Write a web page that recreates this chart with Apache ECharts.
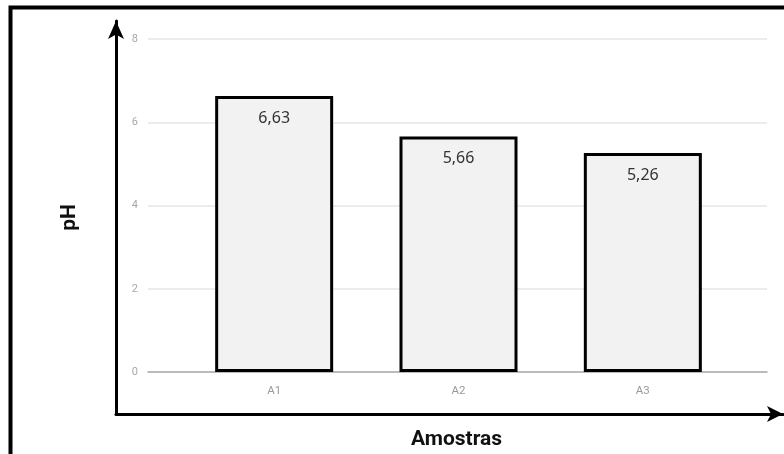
<!DOCTYPE html>
<html>
<head>
<meta charset="utf-8">
<script src="https://cdn.jsdelivr.net/npm/echarts@6/dist/echarts.min.js"></script>
<style>
html,body{margin:0;padding:0;background:#fff;}
#c{width:784px;height:454px;}
</style>
</head>
<body>
<div id="c"></div>
<script>
var categories = ['A1', 'A2', 'A3'];
var phValues = [6.63, 5.66, 5.26];
var yMin = 0, yMax = 8, yInterval = 2;

var chart = echarts.init(document.getElementById('c'), null, {renderer: 'canvas'});
var option = {
  backgroundColor: '#fff',
  animation: false,
  grid: [
    {left: 148, right: 17, top: 39, bottom: 82, outerBoundsMode: 'none', containLabel: false},
    {left: 182, right: 49, top: 39, bottom: 82, outerBoundsMode: 'none', containLabel: false},
    {left: 116, right: 1, top: 21, bottom: 40, outerBoundsMode: 'none', containLabel: false}
  ],
  xAxis: [
    {gridIndex: 0, type: 'value', min: 0, max: 1, show: true,
     axisLine: {show: true, onZero: false, lineStyle: {color: '#aaaaaa', width: 1.5}},
     axisTick: {show: false}, axisLabel: {show: false}, splitLine: {show: false}},
    {gridIndex: 1, type: 'category', data: categories,
     axisLine: {show: false}, axisTick: {show: false},
     axisLabel: {color: '#999999', fontSize: 11.5, fontFamily: 'Roboto', margin: 13}},
    {gridIndex: 2, type: 'value', min: 0, max: 1,
     axisLine: {show: true, onZero: false, symbol: ['none', 'arrow'], symbolSize: [12, 16],
                lineStyle: {color: '#000', width: 3}},
     axisTick: {show: false}, axisLabel: {show: false}, splitLine: {show: false},
     name: 'Amostras', nameLocation: 'middle', nameGap: 15,
     nameTextStyle: {color: '#111', fontSize: 21, fontWeight: 'bold', fontFamily: 'Roboto',
                     padding: [0, 0, 0, 14]}}
  ],
  yAxis: [
    {gridIndex: 0, type: 'value', min: yMin, max: yMax, interval: yInterval,
     axisLine: {show: false}, axisTick: {show: false},
     axisLabel: {color: '#a8a8a8', fontSize: 11, fontFamily: 'Roboto', margin: 10},
     splitLine: {show: true, lineStyle: {color: '#e6e6e6', width: 1.5}}},
    {gridIndex: 1, type: 'value', min: yMin, max: yMax, interval: yInterval, show: false,
     splitLine: {show: false}},
    {gridIndex: 2, type: 'value', min: 0, max: 1,
     axisLine: {show: true, onZero: false, symbol: ['none', 'arrow'], symbolSize: [12, 18],
                lineStyle: {color: '#000', width: 3}},
     axisTick: {show: false}, axisLabel: {show: false}, splitLine: {show: false},
     name: 'pH', nameLocation: 'middle', nameGap: 36, nameRotate: 90,
     nameTextStyle: {color: '#111', fontSize: 21, fontWeight: 'bold', fontFamily: 'Roboto'}}
  ],
  series: [{
    type: 'bar',
    xAxisIndex: 1, yAxisIndex: 1,
    data: phValues,
    barWidth: 118,
    itemStyle: {color: '#f2f2f2', borderColor: '#000', borderWidth: 3},
    label: {show: true, position: 'insideTop', distance: 14, color: '#333',
            fontSize: 16, fontFamily: 'Noto Sans',
            formatter: function (p) { return String(p.value).replace('.', ','); }}
  }],
  graphic: [
    {type: 'polyline', silent: true,
     shape: {points: [[10.5, 454], [10.5, 7.5], [784, 7.5]]},
     style: {stroke: '#000', lineWidth: 4, fill: null}}
  ]
};
chart.setOption(option);
</script>
</body>
</html>
